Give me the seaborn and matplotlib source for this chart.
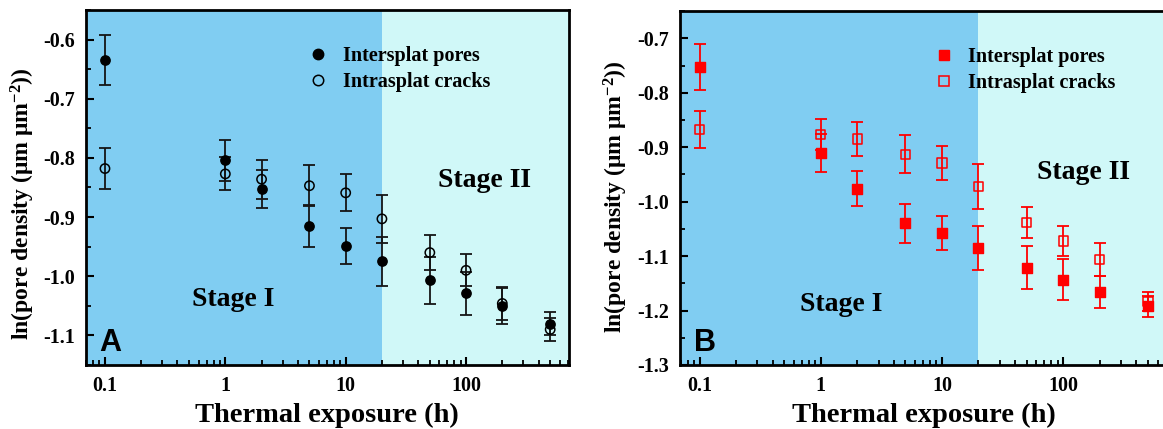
import numpy as np
import pandas as pd
import matplotlib
matplotlib.use("Agg")
import matplotlib.pyplot as plt
import seaborn as sns
from matplotlib.ticker import FixedLocator, LogLocator, MultipleLocator, FormatStrFormatter, NullFormatter
from matplotlib.lines import Line2D

# ---------------- data ----------------
hours = [0.1, 1, 2, 5, 10, 20, 50, 100, 200, 500]

a_inter = [-0.634, -0.804, -0.853, -0.915, -0.949, -0.975, -1.007, -1.029, -1.050, -1.080]
a_inter_err = [0.042, 0.035, 0.032, 0.035, 0.031, 0.041, 0.040, 0.037, 0.030, 0.019]
a_intra = [-0.818, -0.827, -0.836, -0.847, -0.859, -0.903, -0.960, -0.990, -1.046, -1.090]
a_intra_err = [0.034, 0.028, 0.033, 0.035, 0.031, 0.041, 0.030, 0.027, 0.028, 0.020]

b_inter = [-0.753, -0.911, -0.976, -1.040, -1.058, -1.085, -1.121, -1.143, -1.166, -1.192]
b_inter_err = [0.042, 0.035, 0.032, 0.036, 0.031, 0.041, 0.039, 0.037, 0.030, 0.019]
b_intra = [-0.868, -0.877, -0.885, -0.913, -0.929, -0.972, -1.038, -1.072, -1.106, -1.183]
b_intra_err = [0.034, 0.028, 0.032, 0.035, 0.031, 0.041, 0.029, 0.027, 0.030, 0.017]

series_labels = ["Intersplat pores", "Intrasplat cracks"]
x_ticks = [0.1, 1, 10, 100]
x_ticklabels = ["0.1", "1", "10", "100"]
stage_boundary = 20

# ---------------- style ----------------
sns.set_theme(style="ticks")
plt.rcParams["font.family"] = ["Liberation Serif", "DejaVu Serif"]
plt.rcParams["font.weight"] = "bold"
plt.rcParams["axes.unicode_minus"] = False
plt.rcParams["text.color"] = "black"
plt.rcParams["axes.labelcolor"] = "black"
plt.rcParams["xtick.color"] = "black"
plt.rcParams["ytick.color"] = "black"
plt.rcParams["mathtext.fontset"] = "custom"
plt.rcParams["mathtext.rm"] = "Liberation Serif:bold"
plt.rcParams["mathtext.bf"] = "Liberation Serif:bold"
plt.rcParams["mathtext.it"] = "Liberation Serif:bold:italic"

col_stage1 = "#80CDF2"
col_stage2 = "#D0F8F8"

fig = plt.figure(figsize=(11.63, 4.29), dpi=100)
axA = fig.add_axes([0.0739, 0.1492, 0.415, 0.8275])
axB = fig.add_axes([0.585, 0.1492, 0.418, 0.825])

XLIM = (0.0695, 711)


def draw_panel(ax, inter, inter_err, intra, intra_err, color, marker, ylim, yticks_major,
               letter, stage1_xy, stage2_xy, legend_anchor, ylabel_xy):
    ax.axvspan(XLIM[0], stage_boundary, color=col_stage1, zorder=0, lw=0)
    ax.axvspan(stage_boundary, XLIM[1], color=col_stage2, zorder=0, lw=0)

    df = pd.DataFrame({
        "hours": hours * 2,
        "value": inter + intra,
        "err": inter_err + intra_err,
        "series": [series_labels[0]] * len(hours) + [series_labels[1]] * len(hours),
    })
    ecolor = "#151515" if color == "black" else color
    for s in series_labels:
        d = df[df["series"] == s]
        ax.errorbar(d["hours"], d["value"], yerr=d["err"], fmt="none", ecolor=ecolor,
                    elinewidth=1.3, capsize=4, capthick=1.3, zorder=2)
    d1 = df[df["series"] == series_labels[0]]
    d2 = df[df["series"] == series_labels[1]]
    sns.scatterplot(data=d1, x="hours", y="value", ax=ax, marker=marker, s=45,
                    color=color, edgecolor=color, linewidth=1.0, zorder=3, legend=False)
    sns.scatterplot(data=d2, x="hours", y="value", ax=ax, marker=marker, s=45,
                    facecolor="none", edgecolor=color,
                    linewidth=1.1, zorder=3, legend=False)

    ax.set_xscale("log")
    ax.set_xlim(*XLIM)
    ax.set_ylim(*ylim)
    ax.xaxis.set_major_locator(FixedLocator(x_ticks))
    ax.set_xticklabels(x_ticklabels)
    ax.xaxis.set_minor_locator(LogLocator(base=10, subs=np.arange(2, 10)))
    ax.xaxis.set_minor_formatter(NullFormatter())
    ax.yaxis.set_major_locator(FixedLocator(yticks_major))
    ax.yaxis.set_major_formatter(FormatStrFormatter("%.1f"))
    ax.yaxis.set_minor_locator(MultipleLocator(0.05))

    ax.tick_params(which="major", direction="in", length=6, width=1.5, labelsize=14.5,
                   top=False, right=False, pad=8, colors="black")
    ax.tick_params(which="minor", direction="in", length=3.5, width=1.3, top=False,
                   right=False, colors="black")
    for lab in ax.get_xticklabels() + ax.get_yticklabels():
        lab.set_fontweight("bold")
    for sp in ax.spines.values():
        sp.set_linewidth(2)
        sp.set_color("black")

    ax.set_xlabel("Thermal exposure (h)", fontsize=20.5, fontweight="bold", labelpad=5,
                  color="black")
    ax.set_ylabel(r"ln(pore density ($\mathbf{\mu}$m $\mathbf{\mu}$m$^{\mathbf{-2}}$))",
                  fontsize=17, fontweight="bold", color="black")
    ax.yaxis.set_label_coords(*ylabel_xy)

    ax.text(0.028, 0.02, letter, transform=ax.transAxes, fontsize=22, fontweight="bold",
            family=["Liberation Sans", "DejaVu Sans"], ha="left", va="bottom", color="black")
    ax.text(stage1_xy[0], stage1_xy[1], "Stage I", transform=ax.transAxes, fontsize=20,
            fontweight="bold", ha="center", va="center", color="black")
    ax.text(stage2_xy[0], stage2_xy[1], "Stage II", transform=ax.transAxes, fontsize=20,
            fontweight="bold", ha="center", va="center", color="black")

    handles = [
        Line2D([], [], marker=marker, linestyle="none", markersize=7.5, markerfacecolor=color,
               markeredgecolor=color),
        Line2D([], [], marker=marker, linestyle="none", markersize=7.5, markerfacecolor="none",
               markeredgecolor=color, markeredgewidth=1.1),
    ]
    leg = ax.legend(handles, series_labels, loc="upper left", bbox_to_anchor=legend_anchor,
                    frameon=False, prop={"size": 14.5, "weight": "bold"}, handletextpad=0.6,
                    labelspacing=0.3, handlelength=1.2, borderaxespad=0)
    for t in leg.get_texts():
        t.set_color("black")


draw_panel(axA, a_inter, a_inter_err, a_intra, a_intra_err, "black", "o",
           (-1.15, -0.55), [-1.1, -1.0, -0.9, -0.8, -0.7, -0.6], "A",
           (0.305, 0.185), (0.825, 0.52), (0.44, 0.922), (-0.101, 0.4535))
draw_panel(axB, b_inter, b_inter_err, b_intra, b_intra_err, "red", "s",
           (-1.3, -0.65), [-1.3, -1.2, -1.1, -1.0, -0.9, -0.8, -0.7], "B",
           (0.33, 0.17), (0.83, 0.545), (0.5, 0.922), (-0.104, 0.475))

fig.savefig("out.png", dpi=100)
